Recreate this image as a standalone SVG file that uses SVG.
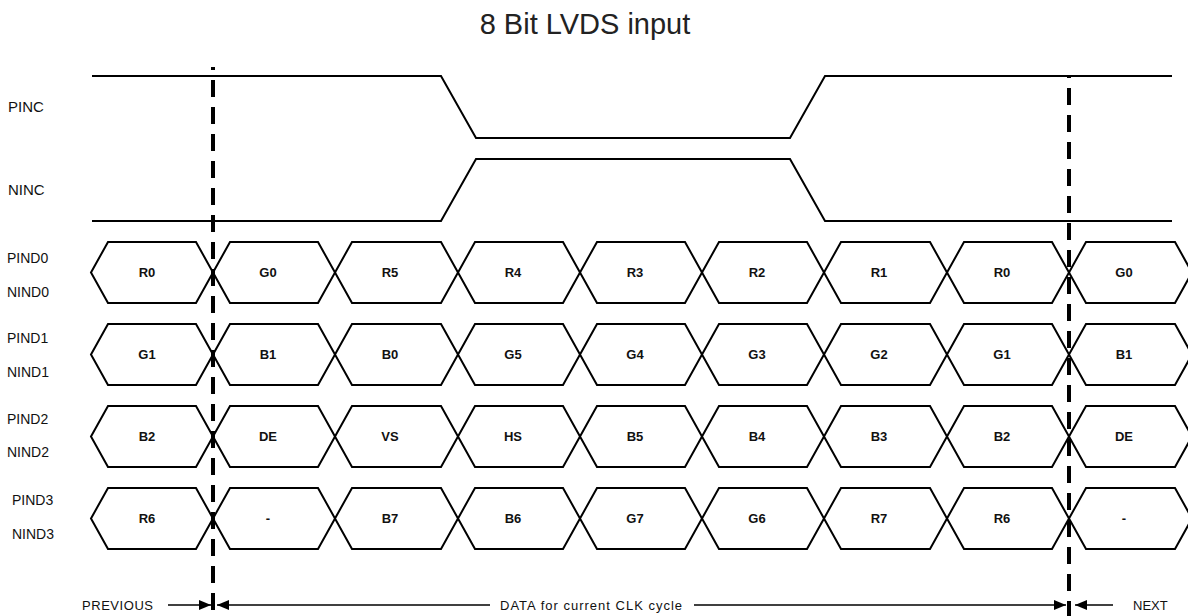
<svg xmlns="http://www.w3.org/2000/svg" width="1188" height="616" viewBox="0 0 1188 616">
<style>
.bg{fill:#fff}
.wave{fill:none;stroke:#000;stroke-width:2;stroke-linejoin:miter}
.hex{fill:none;stroke:#000;stroke-width:2}
.lbl{font-family:"Liberation Sans",Arial,sans-serif;font-size:14px;fill:#111}
.clk{font-family:"Liberation Sans",Arial,sans-serif;font-size:15px;fill:#111}
.cell{font-family:"Liberation Sans",Arial,sans-serif;font-size:13px;font-weight:bold;fill:#111;text-anchor:middle}
.title{font-family:"Liberation Sans",Arial,sans-serif;font-size:29px;fill:#222;text-anchor:middle}
.foot{font-family:"Liberation Sans",Arial,sans-serif;font-size:13px;fill:#111}
.dash{stroke:#000;stroke-width:4;stroke-dasharray:17 10;fill:none}
.arr{stroke:#000;stroke-width:1.3;fill:none}
</style>
<defs>
<marker id="ah" viewBox="0 0 12 10" refX="12" refY="5" markerWidth="12" markerHeight="10" markerUnits="userSpaceOnUse" orient="auto">
<path d="M0,0 L12,5 L0,10 Z" fill="#000"/>
</marker>
</defs>
<rect class="bg" width="1188" height="616"/>
<text class="title" x="585" y="34">8 Bit LVDS input</text>

<g id="clock">
<text class="clk" x="8" y="112">PINC</text>
<text class="clk" x="8" y="195">NINC</text>
<polyline class="wave" points="92,76 441,76 476,138 790,138 825,76 1172,76"/>
<polyline class="wave" points="92,221 441,221 476,159 790,159 825,221 1172,221"/>
</g>

<g id="labels">
<text class="lbl" x="7" y="263">PIND0</text>
<text class="lbl" x="7" y="297">NIND0</text>
<text class="lbl" x="7" y="343">PIND1</text>
<text class="lbl" x="7" y="377">NIND1</text>
<text class="lbl" x="7" y="424">PIND2</text>
<text class="lbl" x="7" y="457">NIND2</text>
<text class="lbl" x="12" y="505">PIND3</text>
<text class="lbl" x="12" y="539">NIND3</text>
</g>

<g id="row0">
<polygon class="hex" points="91,272.5 108,242 196,242 213,272.5 196,303 108,303"/><text class="cell" x="147" y="277">R0</text>
<polygon class="hex" points="213,272.5 230,242 318,242 335,272.5 318,303 230,303"/><text class="cell" x="268" y="277">G0</text>
<polygon class="hex" points="335,272.5 352,242 441,242 458,272.5 441,303 352,303"/><text class="cell" x="390" y="277">R5</text>
<polygon class="hex" points="458,272.5 475,242 563,242 580,272.5 563,303 475,303"/><text class="cell" x="513" y="277">R4</text>
<polygon class="hex" points="580,272.5 597,242 685,242 702,272.5 685,303 597,303"/><text class="cell" x="635" y="277">R3</text>
<polygon class="hex" points="702,272.5 719,242 807,242 824,272.5 807,303 719,303"/><text class="cell" x="757" y="277">R2</text>
<polygon class="hex" points="824,272.5 841,242 930,242 947,272.5 930,303 841,303"/><text class="cell" x="879" y="277">R1</text>
<polygon class="hex" points="947,272.5 964,242 1052,242 1069,272.5 1052,303 964,303"/><text class="cell" x="1002" y="277">R0</text>
<polygon class="hex" points="1069,272.5 1086,242 1175,242 1192,272.5 1175,303 1086,303"/><text class="cell" x="1124" y="277">G0</text>
</g>

<g id="row1">
<polygon class="hex" points="91,354.5 108,324 196,324 213,354.5 196,385 108,385"/><text class="cell" x="147" y="359">G1</text>
<polygon class="hex" points="213,354.5 230,324 318,324 335,354.5 318,385 230,385"/><text class="cell" x="268" y="359">B1</text>
<polygon class="hex" points="335,354.5 352,324 441,324 458,354.5 441,385 352,385"/><text class="cell" x="390" y="359">B0</text>
<polygon class="hex" points="458,354.5 475,324 563,324 580,354.5 563,385 475,385"/><text class="cell" x="513" y="359">G5</text>
<polygon class="hex" points="580,354.5 597,324 685,324 702,354.5 685,385 597,385"/><text class="cell" x="635" y="359">G4</text>
<polygon class="hex" points="702,354.5 719,324 807,324 824,354.5 807,385 719,385"/><text class="cell" x="757" y="359">G3</text>
<polygon class="hex" points="824,354.5 841,324 930,324 947,354.5 930,385 841,385"/><text class="cell" x="879" y="359">G2</text>
<polygon class="hex" points="947,354.5 964,324 1052,324 1069,354.5 1052,385 964,385"/><text class="cell" x="1002" y="359">G1</text>
<polygon class="hex" points="1069,354.5 1086,324 1175,324 1192,354.5 1175,385 1086,385"/><text class="cell" x="1124" y="359">B1</text>
</g>

<g id="row2">
<polygon class="hex" points="91,436.5 108,406 196,406 213,436.5 196,467 108,467"/><text class="cell" x="147" y="441">B2</text>
<polygon class="hex" points="213,436.5 230,406 318,406 335,436.5 318,467 230,467"/><text class="cell" x="268" y="441">DE</text>
<polygon class="hex" points="335,436.5 352,406 441,406 458,436.5 441,467 352,467"/><text class="cell" x="390" y="441">VS</text>
<polygon class="hex" points="458,436.5 475,406 563,406 580,436.5 563,467 475,467"/><text class="cell" x="513" y="441">HS</text>
<polygon class="hex" points="580,436.5 597,406 685,406 702,436.5 685,467 597,467"/><text class="cell" x="635" y="441">B5</text>
<polygon class="hex" points="702,436.5 719,406 807,406 824,436.5 807,467 719,467"/><text class="cell" x="757" y="441">B4</text>
<polygon class="hex" points="824,436.5 841,406 930,406 947,436.5 930,467 841,467"/><text class="cell" x="879" y="441">B3</text>
<polygon class="hex" points="947,436.5 964,406 1052,406 1069,436.5 1052,467 964,467"/><text class="cell" x="1002" y="441">B2</text>
<polygon class="hex" points="1069,436.5 1086,406 1175,406 1192,436.5 1175,467 1086,467"/><text class="cell" x="1124" y="441">DE</text>
</g>

<g id="row3">
<polygon class="hex" points="91,518.5 108,488 196,488 213,518.5 196,549 108,549"/><text class="cell" x="147" y="523">R6</text>
<polygon class="hex" points="213,518.5 230,488 318,488 335,518.5 318,549 230,549"/><text class="cell" x="268" y="523">-</text>
<polygon class="hex" points="335,518.5 352,488 441,488 458,518.5 441,549 352,549"/><text class="cell" x="390" y="523">B7</text>
<polygon class="hex" points="458,518.5 475,488 563,488 580,518.5 563,549 475,549"/><text class="cell" x="513" y="523">B6</text>
<polygon class="hex" points="580,518.5 597,488 685,488 702,518.5 685,549 597,549"/><text class="cell" x="635" y="523">G7</text>
<polygon class="hex" points="702,518.5 719,488 807,488 824,518.5 807,549 719,549"/><text class="cell" x="757" y="523">G6</text>
<polygon class="hex" points="824,518.5 841,488 930,488 947,518.5 930,549 841,549"/><text class="cell" x="879" y="523">R7</text>
<polygon class="hex" points="947,518.5 964,488 1052,488 1069,518.5 1052,549 964,549"/><text class="cell" x="1002" y="523">R6</text>
<polygon class="hex" points="1069,518.5 1086,488 1175,488 1192,518.5 1175,549 1086,549"/><text class="cell" x="1124" y="523">-</text>
</g>

<g id="boundaries">
<line class="dash" x1="213" y1="67" x2="213" y2="616" stroke-dashoffset="14"/>
<line class="dash" x1="1069" y1="75" x2="1069" y2="616" stroke-dashoffset="14"/>
</g>

<g id="connectors">
<line class="arr" x1="168" y1="605" x2="211" y2="605" marker-end="url(#ah)"/>
<line class="arr" x1="490" y1="605" x2="217" y2="605" marker-end="url(#ah)"/>
<line class="arr" x1="694" y1="605" x2="1066" y2="605" marker-end="url(#ah)"/>
<line class="arr" x1="1113" y1="605" x2="1075" y2="605" marker-end="url(#ah)"/>
</g>

<g id="footer">
<text class="foot" x="82" y="610" textLength="71">PREVIOUS</text>
<text class="foot" x="500" y="610" textLength="182">DATA for current CLK cycle</text>
<text class="foot" x="1133" y="610">NEXT</text>
</g>
</svg>
